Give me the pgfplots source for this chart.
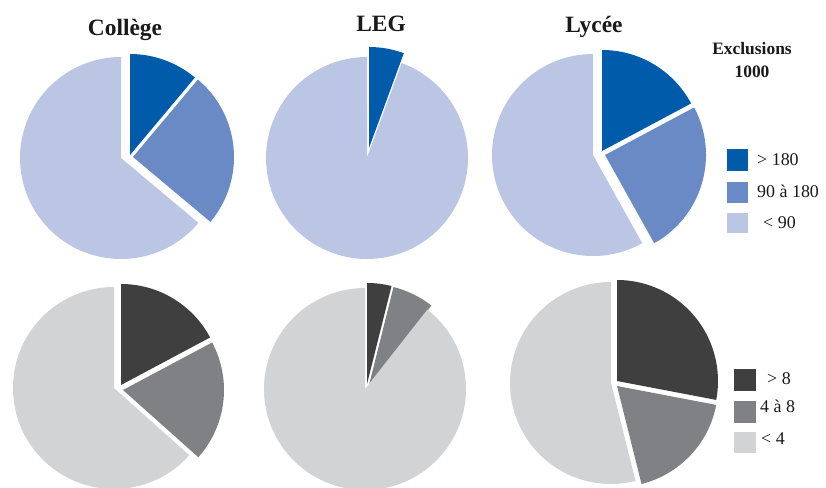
\documentclass[border=0pt]{standalone}
\usepackage{pgfplots}
\pgfplotsset{compat=1.18}
\usepackage{pgfplotstable}
\usepackage{fontspec}
\setmainfont{Liberation Serif}

\definecolor{bA}{HTML}{005BAA}
\definecolor{bB}{HTML}{6A8AC6}
\definecolor{bC}{HTML}{BAC6E3}
\definecolor{gA}{HTML}{3F3F40}
\definecolor{gB}{HTML}{808184}
\definecolor{gC}{HTML}{D1D3D4}

% Shares in percent, clockwise from 12 o'clock; dx/dy: slice offset (bp)
% Exclusions (1000): > 180, 90 a 180, < 90
\pgfplotstableread{
share dx dy
11.1  9  3
25.0 12  1
63.9  0  0
}\collegeA
\pgfplotstableread{
share dx dy
5.6   2 10
0.0   0  0
94.4  0  0
}\legA
\pgfplotstableread{
share dx dy
17.2  9  4
24.7 12  0
58.1  0  0
}\lyceeA
% > 8, 4 a 8, < 4
\pgfplotstableread{
share dx dy
17.2  7  3
19.4  9 -2
63.4  0  0
}\collegeB
\pgfplotstableread{
share dx dy
3.9   2  5
6.7   4  4
89.4  0  0
}\legB
\pgfplotstableread{
share dx dy
28.0  6  2
18.1  6 -3
53.9  0  0
}\lyceeB

\newcommand\pieradius{101}
% #1 table, #2/#3 centre, #4-#6 slice colours
\newcommand\drawpie[6]{%
  \pgfplotsextra{%
    \gdef\piecum{0}%
    \foreach \rowi/\slicecol in {0/#4,1/#5,2/#6}{%
      \pgfplotstablegetelem{\rowi}{share}\of{#1}\let\pieshare\pgfplotsretval
      \pgfplotstablegetelem{\rowi}{dx}\of{#1}\let\piedx\pgfplotsretval
      \pgfplotstablegetelem{\rowi}{dy}\of{#1}\let\piedy\pgfplotsretval
      \pgfmathsetmacro\pieA{90-3.6*\piecum}%
      \pgfmathsetmacro\pieB{\pieA-3.6*\pieshare}%
      \pgfmathsetmacro\piex{#2+\piedx}%
      \pgfmathsetmacro\piey{#3+\piedy}%
      \fill[\slicecol] (axis cs:\piex,\piey) -- ++(\pieA:\pieradius bp)
        arc[start angle=\pieA, end angle=\pieB, radius=\pieradius bp] -- cycle;
      \pgfmathsetmacro\newcum{\piecum+\pieshare}%
      \global\let\piecum\newcum
    }%
  }%
}

\begin{document}
\begin{tikzpicture}
\begin{axis}[width=826bp, height=488bp, scale only axis, hide axis,
  xmin=0, xmax=826, ymin=0, ymax=488, clip=false]
\drawpie{\collegeA}{121}{330}{bA}{bB}{bC}
\drawpie{\legA}{367}{330}{bA}{bB}{bC}
\drawpie{\lyceeA}{593}{333}{bA}{bB}{bC}
\drawpie{\collegeB}{114}{100}{gA}{gB}{gC}
\drawpie{\legB}{365}{99}{gA}{gB}{gC}
\drawpie{\lyceeB}{611}{105}{gA}{gB}{gC}

\begin{scope}[every node/.style={anchor=base, inner sep=0pt,
    font=\fontsize{23.5}{27}\selectfont\bfseries, text=black!90}]
\node at (axis cs:125,452) {Collège};
\node at (axis cs:381,456) {LEG};
\node at (axis cs:594,455) {Lycée};
\end{scope}

\begin{scope}[every node/.style={anchor=base, inner sep=0pt,
    font=\fontsize{17.5}{20}\selectfont\bfseries, text=black!90}]
\node at (axis cs:752,433) {Exclusions};
\node at (axis cs:752,410) {1000};
\end{scope}

% legend swatches
\fill[bA] (axis cs:727,317) rectangle (axis cs:748,339);
\fill[bB] (axis cs:727,285) rectangle (axis cs:748,306);
\fill[bC] (axis cs:727,255) rectangle (axis cs:748,275);
\fill[gA] (axis cs:734,97) rectangle (axis cs:756,119);
\fill[gB] (axis cs:734,65) rectangle (axis cs:756,87);
\fill[gC] (axis cs:734,35) rectangle (axis cs:756,56);

\begin{scope}[every node/.style={anchor=base west, inner sep=0pt,
    font=\fontsize{18}{21}\selectfont, text=black!90}]
\node at (axis cs:757,322) {> 180};
\node at (axis cs:757,290) {90 à 180};
\node at (axis cs:763,259) {< 90};
\node at (axis cs:767,103) {> 8};
\node at (axis cs:760,75) {4 à 8};
\node at (axis cs:761,43) {< 4};
\end{scope}
\end{axis}
\pgfresetboundingbox
\path[use as bounding box] (0,0) rectangle (826bp,488bp);
\end{tikzpicture}
\end{document}
